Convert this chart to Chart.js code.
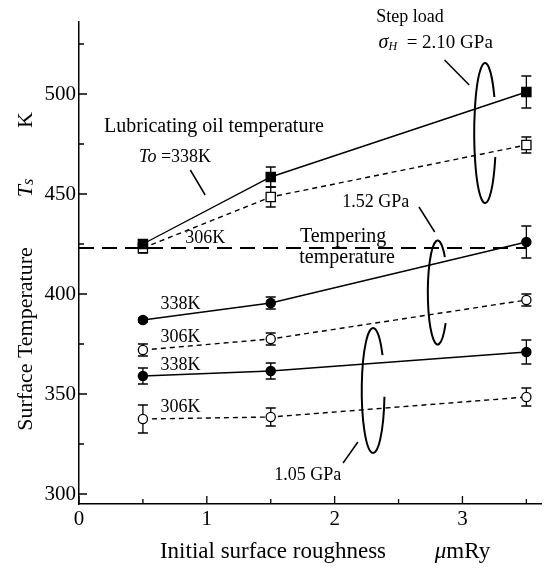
<!DOCTYPE html>
<html><head><meta charset="utf-8">
<script src="https://cdn.jsdelivr.net/npm/chart.js@4"></script>
<style>html,body{margin:0;padding:0;background:#fff}#wrap{width:549px;height:569px}</style>
</head><body><div id="wrap"><canvas id="c" width="549" height="569"></canvas></div>
<script>
// ---- data ----
const roughness = [0.5, 1.5, 3.5];
const ts210_338 = [425, 458.5, 501];
const err210_338 = [2, 5, 8];
const ts210_306 = [423, 448.5, 474.5];
const err210_306 = [2.5, 5, 4];
const ts152_338 = [387, 395.5, 426];
const err152_338 = [1, 3, 8];
const ts152_306 = [372, 377.5, 397];
const err152_306 = [3, 3, 3];
const ts105_338 = [359, 361.5, 371];
const err105_338 = [4, 4, 6];
const ts105_306 = [337.5, 338.5, 348.5];
const err105_306 = [7, 4.5, 4.5];
const temperingTemp = 423;
const temperingRange = [0, 3.5];
const xTickValues = [0, 1, 2, 3];
const yTickValues = [300, 350, 400, 450, 500];

// ---- annotation layout (data coordinates) ----
const SERIF = '"Liberation Serif","DejaVu Serif","Times New Roman",serif';
const ellipses = [
  {cx: 3.177, cy: 480.5, rx: 0.085, ry: 35, gap: [-0.54, 0.35]},
  {cx: 2.806, cy: 400.75, rx: 0.077, ry: 26, gap: [-0.75, 0.63]},
  {cx: 2.301, cy: 351.75, rx: 0.089, ry: 31.25, gap: [-0.6, 0.1]}
];
const pointers = [
  [2.860, 517, 3.053, 504.5],
  [2.660, 443.5, 2.783, 431],
  [2.182, 326, 2.066, 315.5],
  [0.871, 462, 0.987, 449.5]
];
const labels = [
  {x: 2.59, y: 538.5, align: 'center', parts: [{t: 'Step load', s: 18}]},
  {x: 2.344, y: 525.5, align: 'left', parts: [{t: 'σ', s: 20, i: true}, {t: 'H', s: 12, i: true, dy: 4}, {t: '  = 2.10 GPa', s: 19}]},
  {x: 1.056, y: 483.5, align: 'center', parts: [{t: 'Lubricating oil temperature', s: 20}]},
  {x: 0.47, y: 468.5, align: 'left', parts: [{t: 'To', s: 18, i: true}, {t: ' =338K', s: 18}]},
  {x: 0.987, y: 428, align: 'center', parts: [{t: '306K', s: 18}]},
  {x: 2.066, y: 428.5, align: 'center', parts: [{t: 'Tempering', s: 20}]},
  {x: 2.097, y: 418, align: 'center', parts: [{t: 'temperature', s: 20}]},
  {x: 2.321, y: 446, align: 'center', parts: [{t: '1.52 GPa', s: 18}]},
  {x: 1.789, y: 309.5, align: 'center', parts: [{t: '1.05 GPa', s: 18}]},
  {x: 0.794, y: 395, align: 'center', parts: [{t: '338K', s: 18}]},
  {x: 0.794, y: 378.5, align: 'center', parts: [{t: '306K', s: 18}]},
  {x: 0.794, y: 364.5, align: 'center', parts: [{t: '338K', s: 18}]},
  {x: 0.794, y: 343.5, align: 'center', parts: [{t: '306K', s: 18}]}
];

function pts(ys) { return roughness.map((x, i) => ({x: x, y: ys[i]})); }
function ds(ys, errs, dashed, open, shape) {
  return {
    data: pts(ys), errs: errs,
    borderColor: '#000', borderWidth: 1.4, borderDash: dashed ? [5, 4] : [],
    pointStyle: shape, pointRadius: shape === 'rect' ? 6.5 : 4.6,
    pointBackgroundColor: open ? '#fff' : '#000', pointBorderColor: '#000',
    pointBorderWidth: 1.3, showLine: true, tension: 0, fill: false
  };
}
const datasets = [
  ds(ts210_338, err210_338, false, false, 'rect'),
  ds(ts210_306, err210_306, true, true, 'rect'),
  ds(ts152_338, err152_338, false, false, 'circle'),
  ds(ts152_306, err152_306, true, true, 'circle'),
  ds(ts105_338, err105_338, false, false, 'circle'),
  ds(ts105_306, err105_306, true, true, 'circle'),
  {data: temperingRange.map(x => ({x: x, y: temperingTemp})), borderColor: '#000', borderWidth: 2,
   borderDash: [15, 8], pointRadius: 0, showLine: true, fill: false}
];

function drawRich(ctx, x, y, parts, align) {
  let w = 0;
  parts.forEach(p => { ctx.font = (p.i ? 'italic ' : '') + p.s + 'px ' + SERIF; w += ctx.measureText(p.t).width; });
  let cx = align === 'center' ? x - w / 2 : x;
  ctx.textAlign = 'left'; ctx.textBaseline = 'middle'; ctx.fillStyle = '#000';
  parts.forEach(p => {
    ctx.font = (p.i ? 'italic ' : '') + p.s + 'px ' + SERIF;
    ctx.fillText(p.t, cx, y + (p.dy || 0));
    cx += ctx.measureText(p.t).width;
  });
}

const decor = {
  id: 'decor',
  beforeDatasetsDraw(chart) {
    const ctx = chart.ctx, xs = chart.scales.x, ys = chart.scales.y;
    ctx.save(); ctx.strokeStyle = '#000'; ctx.lineWidth = 1.3;
    chart.data.datasets.forEach(d => {
      if (!d.errs) return;
      d.data.forEach((p, i) => {
        const px = xs.getPixelForValue(p.x);
        const t = ys.getPixelForValue(p.y + d.errs[i]), b = ys.getPixelForValue(p.y - d.errs[i]);
        ctx.beginPath();
        ctx.moveTo(px, t); ctx.lineTo(px, b);
        ctx.moveTo(px - 5, t); ctx.lineTo(px + 5, t);
        ctx.moveTo(px - 5, b); ctx.lineTo(px + 5, b);
        ctx.stroke();
      });
    });
    ctx.restore();
  },
  afterDraw(chart) {
    const ctx = chart.ctx, xs = chart.scales.x, ys = chart.scales.y, a = chart.chartArea;
    ctx.save(); ctx.strokeStyle = '#000'; ctx.lineWidth = 1.3;
    const xv = xs.ticks.map(t => t.value), yv = ys.ticks.map(t => t.value);
    function minors(v, max) {
      const m = [];
      for (let i = 0; i < v.length; i++) {
        const nxt = i + 1 < v.length ? v[i + 1] : v[i] + (v[i] - v[i - 1]);
        const mid = (v[i] + nxt) / 2;
        if (mid <= max) m.push(mid);
      }
      return m;
    }
    ctx.beginPath();
    xv.forEach(v => { const p = xs.getPixelForValue(v); ctx.moveTo(p, a.bottom); ctx.lineTo(p, a.bottom - 8); });
    minors(xv, xs.max).forEach(v => { const p = xs.getPixelForValue(v); ctx.moveTo(p, a.bottom); ctx.lineTo(p, a.bottom - 5); });
    yv.forEach(v => { const p = ys.getPixelForValue(v); ctx.moveTo(a.left, p); ctx.lineTo(a.left + 8, p); });
    minors(yv, ys.max).forEach(v => { const p = ys.getPixelForValue(v); ctx.moveTo(a.left, p); ctx.lineTo(a.left + 5, p); });
    ctx.stroke();
    ctx.lineWidth = 2;
    ellipses.forEach(e => {
      const cx = xs.getPixelForValue(e.cx), cy = ys.getPixelForValue(e.cy);
      const rx = xs.getPixelForValue(e.cx + e.rx) - cx, ry = cy - ys.getPixelForValue(e.cy + e.ry);
      ctx.beginPath();
      ctx.ellipse(cx, cy, rx, ry, 0, e.gap[1], Math.PI * 2 + e.gap[0]);
      ctx.stroke();
    });
    ctx.lineWidth = 1.5;
    pointers.forEach(p => {
      ctx.beginPath();
      ctx.moveTo(xs.getPixelForValue(p[0]), ys.getPixelForValue(p[1]));
      ctx.lineTo(xs.getPixelForValue(p[2]), ys.getPixelForValue(p[3]));
      ctx.stroke();
    });
    labels.forEach(l => drawRich(ctx, xs.getPixelForValue(l.x), ys.getPixelForValue(l.y), l.parts, l.align));
    // x title
    drawRich(ctx, 273, 552, [{t: 'Initial surface roughness', s: 23}], 'center');
    drawRich(ctx, xs.getPixelForValue(3), 552, [{t: 'μ', s: 23, i: true}, {t: 'mRy', s: 23}], 'center');
    // y title (rotated)
    ctx.translate(26, 0);
    ctx.rotate(-Math.PI / 2);
    drawRich(ctx, -339, 0, [{t: 'Surface Temperature', s: 22}], 'center');
    drawRich(ctx, -188, 0, [{t: 'T', s: 22, i: true}, {t: 's', s: 16, i: true, dy: 3}], 'center');
    drawRich(ctx, -120, 0, [{t: 'K', s: 22}], 'center');
    ctx.restore();
  }
};

new Chart(document.getElementById('c'), {
  type: 'scatter',
  data: {datasets: datasets},
  plugins: [decor],
  options: {
    responsive: false, animation: false, devicePixelRatio: 1,
    layout: {padding: {top: 22, right: 1, left: 0, bottom: 0}},
    plugins: {legend: {display: false}, tooltip: {enabled: false}},
    scales: {
      x: {
        type: 'linear', min: 0, max: 3.616,
        afterBuildTicks: s => { s.ticks = xTickValues.map(v => ({value: v})); },
        afterFit: s => { s.height = 65; },
        grid: {display: false, drawTicks: false},
        border: {display: true, color: '#000', width: 1.5},
        ticks: {color: '#000', padding: 3, font: {family: SERIF, size: 21}, callback: v => String(v)}
      },
      y: {
        type: 'linear', min: 295, max: 536,
        afterBuildTicks: s => { s.ticks = yTickValues.map(v => ({value: v})); },
        afterFit: s => { s.width = 79; },
        grid: {display: false, drawTicks: false},
        border: {display: true, color: '#000', width: 1.5},
        ticks: {color: '#000', padding: 3, font: {family: SERIF, size: 21}, callback: v => String(v)}
      }
    }
  }
});
</script></body></html>
